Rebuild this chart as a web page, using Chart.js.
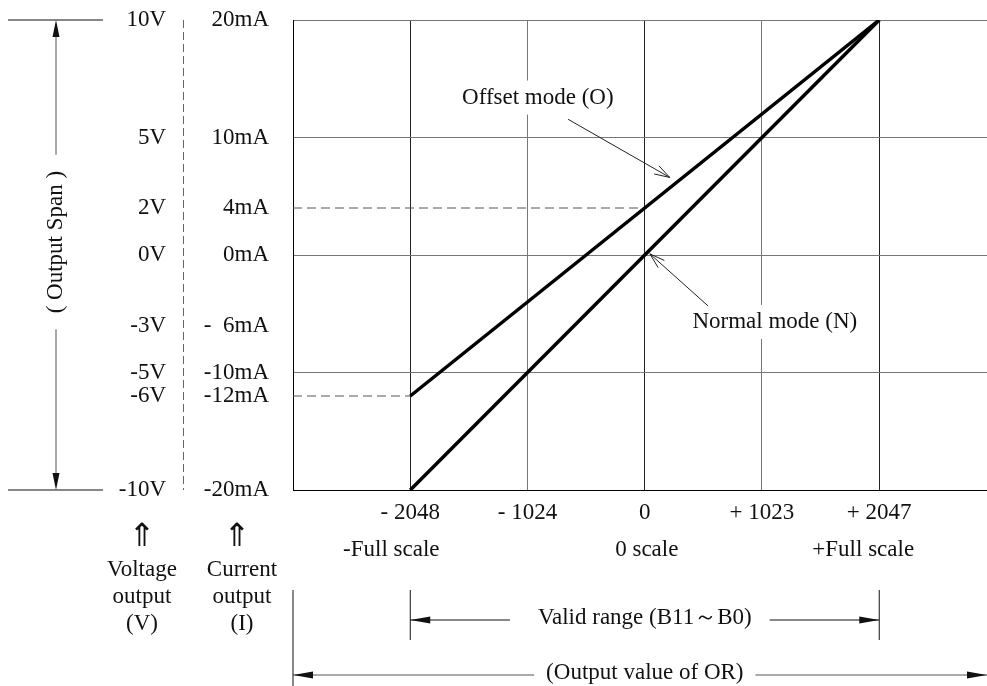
<!DOCTYPE html>
<html><head><meta charset="utf-8">
<script src="https://cdn.jsdelivr.net/npm/chart.js@4.4.0/dist/chart.umd.min.js"></script>
<style>html,body{margin:0;padding:0;background:#fff;overflow:hidden}canvas{display:block}</style>
</head><body>
<canvas id="c" width="987" height="686"></canvas>
<script>
// ---- data ----
const xTickValues = [-2048, -1024, 0, 1023, 2047];
const xTickLabels = ['- 2048', '- 1024', '0', '+ 1023', '+ 2047'];
const currentTicks = [20, 10, 4, 0, -6, -10, -12, -20];
const currentLabels = ['20mA', '10mA', '4mA', '0mA', '-  6mA', '-10mA', '-12mA', '-20mA'];
const voltageTicks = [10, 5, 2, 0, -3, -5, -6, -10];
const voltageLabels = ['10V', '5V', '2V', '0V', '-3V', '-5V', '-6V', '-10V'];
const normalX = [-2048, 2047];
const normalY = [-20, 20];
const offsetX = [-2048, 2047];
const offsetY = [-12, 20];
const ref4X = [-3072, 0];
const ref4Y = [4, 4];
const refMinX = [-3072, -2048];
const refMinY = [-12, -12];
const scaleNames = ['-Full scale', '0 scale', '+Full scale'];
const scaleNameValues = [-2048, 0, 2047];
const spanText = '( Output Span )';
const validText = 'Valid range (B11～B0)';
const outText = '(Output value of OR)';
const voltCaption = ['Voltage', 'output', '(V)'];
const currCaption = ['Current', 'output', '(I)'];
const upArrow = '⇑';
const modeTexts = ['Offset mode (O)', 'Normal mode (N)'];

// ---- layout / style (positions of annotations in data units) ----
const modeNotePos = [
  {tx: -934, ty: 13.4, fx: -670, fy: 11.55, px: 218, py: 6.6},
  {tx: 1135, ty: -5.7, fx: 553, fy: -4.34, px: 44, py: 0.1}
];
const scaleNameDx = [-19, 2, -16];
const FONT = '"Liberation Serif","Times New Roman","DejaVu Serif",serif';
const FS = 23;
const INK = '#111';

const pts = (xs, ys) => xs.map((v, i) => ({x: v, y: ys[i]}));

function seg(ctx, x1, y1, x2, y2) { ctx.beginPath(); ctx.moveTo(x1, y1); ctx.lineTo(x2, y2); ctx.stroke(); }
function head(ctx, tx, ty, ang, len, hw) {
  const c = Math.cos(ang), s = Math.sin(ang);
  const bx = tx - c * len, by = ty - s * len;
  ctx.beginPath(); ctx.moveTo(tx, ty);
  ctx.lineTo(bx - s * hw, by + c * hw); ctx.lineTo(bx + s * hw, by - c * hw);
  ctx.closePath(); ctx.fill();
}
function openHead(ctx, tx, ty, ang, len, spread) {
  for (const d of [-spread, spread]) {
    const a = ang + Math.PI + d;
    seg(ctx, tx, ty, tx + Math.cos(a) * len, ty + Math.sin(a) * len);
  }
}

const annot = {
  id: 'annot',
  afterDraw(chart) {
    const {ctx, chartArea} = chart;
    const x = chart.scales.x, y = chart.scales.y, y2 = chart.scales.y2;
    ctx.save();
    ctx.font = FS + 'px ' + FONT;
    ctx.fillStyle = INK; ctx.strokeStyle = INK; ctx.lineWidth = 1;
    ctx.textAlign = 'center'; ctx.textBaseline = 'middle';

    // dashed separator between voltage and current columns
    ctx.save();
    ctx.strokeStyle = '#666'; ctx.setLineDash([8, 4]);
    seg(ctx, y2.right + 0.5, chartArea.top, y2.right + 0.5, chartArea.bottom);
    ctx.restore();

    // mode annotations
    modeNotePos.forEach((p, i) => {
      const cx = x.getPixelForValue(p.tx), cy = y.getPixelForValue(p.ty);
      const w = ctx.measureText(modeTexts[i]).width;
      ctx.fillStyle = '#fff';
      ctx.fillRect(cx - w / 2 - 4, cy - 17, w + 8, 34);
      ctx.fillStyle = INK;
      ctx.fillText(modeTexts[i], cx, cy);
      const fx = x.getPixelForValue(p.fx), fy = y.getPixelForValue(p.fy);
      const px = x.getPixelForValue(p.px), py = y.getPixelForValue(p.py);
      ctx.strokeStyle = '#222';
      seg(ctx, fx, fy, px, py);
      openHead(ctx, px, py, Math.atan2(py - fy, px - fx), 16, 0.3);
    });

    // left output span arrow
    const top = y.getPixelForValue(20), bot = y.getPixelForValue(-20);
    ctx.strokeStyle = INK;
    seg(ctx, 8, top, 103, top); seg(ctx, 8, bot, 103, bot);
    const ax = 56, mid = y.getPixelForValue(1.1);
    const tw = ctx.measureText(spanText).width;
    ctx.strokeStyle = '#555';
    seg(ctx, ax, top + 4, ax, mid - tw / 2 - 16);
    seg(ctx, ax, mid + tw / 2 + 16, ax, bot - 4);
    ctx.fillStyle = INK;
    head(ctx, ax, top, -Math.PI / 2, 17, 3.5);
    head(ctx, ax, bot, Math.PI / 2, 17, 3.5);
    ctx.save(); ctx.translate(ax, mid); ctx.rotate(-Math.PI / 2);
    ctx.fillText(spanText, 0, 0); ctx.restore();

    // scale names
    scaleNames.forEach((t, i) => ctx.fillText(t, x.getPixelForValue(scaleNameValues[i]) + scaleNameDx[i], 550));

    // captions under the axis columns
    const capY = [570, 597, 624];
    voltCaption.forEach((t, i) => ctx.fillText(t, 142, capY[i]));
    currCaption.forEach((t, i) => ctx.fillText(t, 242, capY[i]));
    ctx.save();
    ctx.font = '32px "DejaVu Sans", sans-serif';
    ctx.fillText(upArrow, 142, 538); ctx.fillText(upArrow, 237, 538);
    ctx.restore();

    // bottom range arrows
    const xl = x.getPixelForValue(-2048), xr = x.getPixelForValue(2047), xc = x.getPixelForValue(0);
    const L = chartArea.left, R = chartArea.right;
    ctx.strokeStyle = INK;
    seg(ctx, L, 590, L, 686); seg(ctx, xl, 590, xl, 640); seg(ctx, xr, 590, xr, 640);
    const vw = ctx.measureText(validText).width;
    ctx.fillText(validText, xc, 618);
    seg(ctx, xl, 620, xc - vw / 2 - 28, 620); head(ctx, xl, 620, Math.PI, 20, 3.5);
    seg(ctx, xc + vw / 2 + 18, 620, xr, 620); head(ctx, xr, 620, 0, 20, 3.5);
    const ow = ctx.measureText(outText).width;
    ctx.fillText(outText, xc, 673);
    ctx.strokeStyle = '#555';
    seg(ctx, L, 675, xc - ow / 2 - 12, 675); seg(ctx, xc + ow / 2 + 12, 675, R, 675);
    head(ctx, L, 675, Math.PI, 20, 3.5); head(ctx, R, 675, 0, 20, 3.5);
    ctx.restore();
  }
};

Chart.defaults.font.family = FONT;
Chart.defaults.font.size = FS;
Chart.defaults.color = INK;

const noPad = s => { s.paddingTop = 0; s.paddingBottom = 0; };

new Chart(document.getElementById('c'), {
  type: 'scatter',
  data: {
    datasets: [
      {label: 'Normal mode (N)', data: pts(normalX, normalY), showLine: true, borderColor: '#000', borderWidth: 3.5, pointRadius: 0},
      {label: 'Offset mode (O)', data: pts(offsetX, offsetY), showLine: true, borderColor: '#000', borderWidth: 3.5, pointRadius: 0},
      {label: '4mA', data: pts(ref4X, ref4Y), showLine: true, borderColor: '#555', borderWidth: 1, borderDash: [9, 5], pointRadius: 0},
      {label: '-12mA', data: pts(refMinX, refMinY), showLine: true, borderColor: '#555', borderWidth: 1, borderDash: [9, 5], pointRadius: 0}
    ]
  },
  options: {
    responsive: false,
    animation: false,
    layout: {padding: {top: 20, right: 0, bottom: 0, left: 0}},
    plugins: {legend: {display: false}, tooltip: {enabled: false}},
    scales: {
      x: {
        type: 'linear', position: 'bottom', min: -3072, max: 2988,
        afterBuildTicks: s => { s.ticks = xTickValues.map(v => ({value: v})); },
        afterFit: s => { s.height = 196; s.paddingLeft = 0; s.paddingRight = 0; },
        ticks: {autoSkip: false, maxRotation: 0, padding: 9,
          callback: v => xTickLabels[xTickValues.indexOf(v)]},
        grid: {drawTicks: false, lineWidth: 1,
          color: c => ([-2048, 0, 2047].includes(c.tick && c.tick.value) ? '#222' : '#777')},
        border: {color: '#000', width: 1}
      },
      y: {
        type: 'linear', position: 'left', min: -20, max: 20, weight: 0,
        afterBuildTicks: s => { s.ticks = currentTicks.map(v => ({value: v})); },
        afterFit: s => { s.width = 110; noPad(s); },
        ticks: {autoSkip: false, padding: 24,
          callback: v => currentLabels[currentTicks.indexOf(v)]},
        grid: {drawTicks: false, lineWidth: 1,
          color: c => (c.tick && c.tick.value % 10 === 0 ? '#777' : 'rgba(0,0,0,0)')},
        border: {color: '#000', width: 1}
      },
      y2: {
        type: 'linear', position: 'left', min: -10, max: 10, weight: 1,
        afterBuildTicks: s => { s.ticks = voltageTicks.map(v => ({value: v})); },
        afterFit: s => { s.width = 183; noPad(s); },
        ticks: {autoSkip: false, padding: 17,
          callback: v => voltageLabels[voltageTicks.indexOf(v)]},
        grid: {display: false, drawTicks: false},
        border: {display: false}
      }
    }
  },
  plugins: [annot]
});
</script></body></html>
